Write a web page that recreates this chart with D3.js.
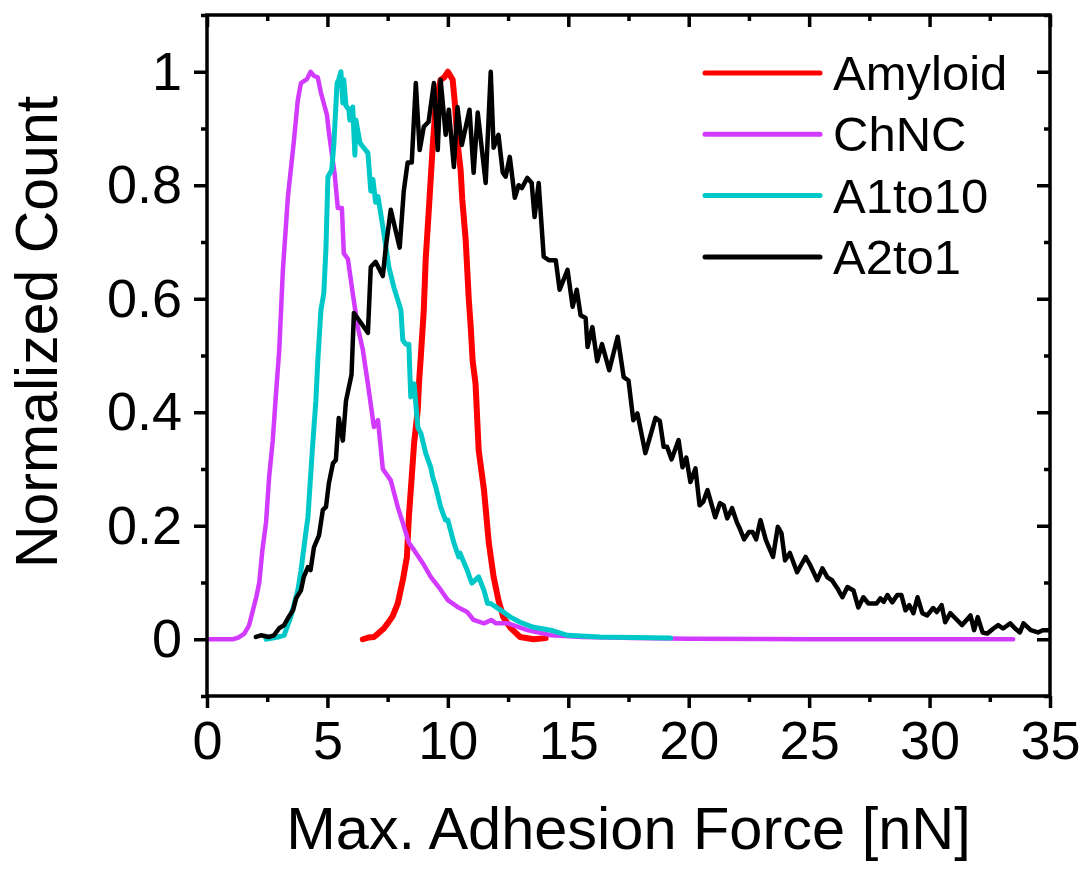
<!DOCTYPE html>
<html lang="en">
<head>
<meta charset="utf-8">
<title>Max. Adhesion Force histogram</title>
<script src="https://d3js.org/d3.v7.min.js"></script>
<style>
  body { margin: 0; background: #fff; }
  svg { font-family: "Liberation Sans", Arial, sans-serif; }
  .axis path { display: none; }
  .axis line { stroke: #000; stroke-width: 3.5; }
  .axis text { font-size: 54px; fill: #000; }
</style>
</head>
<body>
<script>
// series names and colours
var seriesNames = ["Amyloid", "ChNC", "A1to10", "A2to1"];
var seriesColors = ["#ff0000", "#d23aff", "#00c8c8", "#000000"];
var seriesWidths = [6, 4.5, 5, 4.5];

// Amyloid
var amyloidX = [6.47, 6.7, 6.93, 7.1, 7.34, 7.5, 7.7, 7.92, 8.13, 8.3, 8.38, 8.5, 8.6, 8.75, 8.8, 8.88, 9.0, 9.08, 9.2, 9.37, 9.5, 9.7, 9.85, 10.0, 10.2, 10.29, 10.4, 10.53, 10.6, 10.74, 10.87, 10.95, 11.03, 11.15, 11.28, 11.5, 11.7, 11.9, 12.1, 12.3, 12.6, 13.0, 13.56, 14.06];
var amyloidY = [0, 0.003, 0.004, 0.01, 0.019, 0.028, 0.04, 0.063, 0.104, 0.145, 0.215, 0.286, 0.346, 0.404, 0.45, 0.5, 0.58, 0.67, 0.75, 0.868, 0.945, 0.986, 0.99, 1.0, 0.986, 0.945, 0.875, 0.827, 0.774, 0.704, 0.598, 0.55, 0.49, 0.45, 0.333, 0.263, 0.17, 0.11, 0.069, 0.039, 0.02, 0.004, 0, 0.002];

// ChNC
var chncX = [0, 0.5, 1.07, 1.3, 1.55, 1.75, 1.9, 2.05, 2.17, 2.3, 2.45, 2.58, 2.73, 2.86, 3.0, 3.15, 3.36, 3.6, 3.77, 3.9, 4.15, 4.3, 4.43, 4.6, 4.73, 4.98, 5.06, 5.2, 5.3, 5.43, 5.6, 5.68, 5.85, 6.05, 6.26, 6.47, 6.68, 6.93, 7.1, 7.3, 7.63, 7.92, 8.13, 8.38, 8.6, 8.96, 9.29, 9.62, 10.0, 10.4, 10.8, 11.07, 11.5, 11.8, 12.0, 12.5, 13.3, 14.3, 15.6, 17.7, 20, 25, 30, 33.47];
var chncY = [0, 0, 0, 0.003, 0.01, 0.025, 0.05, 0.075, 0.1, 0.157, 0.205, 0.286, 0.35, 0.43, 0.51, 0.65, 0.78, 0.875, 0.95, 0.98, 0.987, 1.0, 0.993, 0.99, 0.963, 0.924, 0.894, 0.85, 0.82, 0.76, 0.76, 0.68, 0.67, 0.61, 0.55, 0.51, 0.45, 0.374, 0.386, 0.30, 0.28, 0.233, 0.205, 0.17, 0.157, 0.134, 0.11, 0.092, 0.069, 0.057, 0.048, 0.034, 0.028, 0.034, 0.028, 0.028, 0.016, 0.007, 0.004, 0.002, 0.001, 0, 0, 0];

// A1to10
var a1to10X = [2.45, 2.94, 3.2, 3.48, 3.77, 3.9, 4.1, 4.19, 4.3, 4.4, 4.52, 4.6, 4.73, 4.85, 4.94, 5.02, 5.18, 5.27, 5.4, 5.47, 5.56, 5.64, 5.68, 5.77, 5.89, 5.93, 6.05, 6.14, 6.18, 6.35, 6.43, 6.68, 6.8, 6.89, 7.0, 7.1, 7.3, 7.34, 7.55, 7.76, 7.92, 8.05, 8.13, 8.25, 8.38, 8.46, 8.6, 8.75, 8.88, 9.08, 9.29, 9.37, 9.5, 9.7, 9.9, 10.0, 10.25, 10.45, 10.5, 10.8, 10.95, 11.0, 11.28, 11.5, 11.65, 11.78, 12.2, 12.6, 13.0, 13.56, 14.27, 14.97, 16.3, 19.25];
var a1to10Y = [0, 0.004, 0.007, 0.04, 0.086, 0.12, 0.187, 0.215, 0.286, 0.35, 0.42, 0.49, 0.58, 0.61, 0.69, 0.815, 0.827, 0.875, 0.98, 0.986, 1.0, 0.945, 0.986, 0.94, 0.933, 0.915, 0.938, 0.853, 0.915, 0.875, 0.87, 0.857, 0.79, 0.81, 0.77, 0.78, 0.727, 0.716, 0.656, 0.62, 0.598, 0.58, 0.527, 0.52, 0.52, 0.427, 0.45, 0.374, 0.363, 0.328, 0.303, 0.286, 0.268, 0.233, 0.21, 0.21, 0.17, 0.145, 0.152, 0.122, 0.104, 0.099, 0.11, 0.086, 0.063, 0.063, 0.051, 0.039, 0.03, 0.021, 0.016, 0.007, 0.004, 0.002];

// A2to1
var a2to1X = [2.03, 2.24, 2.58, 2.78, 2.99, 3.2, 3.36, 3.57, 3.7, 3.9, 4.02, 4.19, 4.3, 4.44, 4.65, 4.81, 4.94, 5.06, 5.23, 5.35, 5.47, 5.64, 5.77, 5.89, 6.0, 6.1, 6.68, 6.8, 7.0, 7.3, 7.42, 7.63, 8.0, 8.17, 8.33, 8.5, 8.67, 8.83, 9.0, 9.2, 9.42, 9.58, 9.7, 9.91, 10.04, 10.25, 10.4, 10.58, 10.9, 11.07, 11.24, 11.57, 11.78, 11.9, 12.1, 12.28, 12.4, 12.57, 12.78, 12.94, 13.07, 13.3, 13.48, 13.6, 13.77, 13.98, 14.19, 14.48, 14.64, 14.97, 15.18, 15.35, 15.51, 15.72, 15.8, 16.0, 16.2, 16.4, 16.7, 17.05, 17.3, 17.5, 17.7, 17.87, 18.2, 18.62, 18.8, 18.96, 19.1, 19.29, 19.58, 19.74, 19.9, 20.07, 20.28, 20.45, 20.6, 20.78, 21.1, 21.3, 21.45, 21.6, 21.8, 22.0, 22.1, 22.3, 22.5, 22.65, 22.8, 22.98, 23.2, 23.5, 23.7, 23.85, 24.0, 24.2, 24.5, 24.85, 25.05, 25.34, 25.55, 25.76, 25.95, 26.17, 26.38, 26.59, 26.84, 27.04, 27.25, 27.46, 27.8, 27.96, 28.1, 28.25, 28.45, 28.66, 28.83, 29.0, 29.16, 29.33, 29.5, 29.7, 29.9, 30.15, 30.3, 30.5, 30.65, 30.86, 31.07, 31.35, 31.7, 31.85, 32.0, 32.2, 32.4, 32.65, 32.85, 33.05, 33.35, 33.55, 33.75, 33.9, 34.2, 34.5, 34.7, 35.0];
var a2to1Y = [0.004, 0.007, 0.004, 0.007, 0.019, 0.025, 0.037, 0.051, 0.072, 0.086, 0.11, 0.127, 0.122, 0.162, 0.183, 0.228, 0.233, 0.275, 0.31, 0.316, 0.39, 0.35, 0.42, 0.444, 0.466, 0.575, 0.54, 0.656, 0.665, 0.64, 0.69, 0.757, 0.69, 0.79, 0.84, 0.84, 0.98, 0.862, 0.903, 0.912, 0.98, 0.862, 0.986, 0.889, 0.933, 0.832, 0.938, 0.871, 0.933, 0.822, 0.928, 0.804, 1.0, 0.866, 0.889, 0.822, 0.815, 0.85, 0.778, 0.8, 0.795, 0.813, 0.804, 0.744, 0.804, 0.674, 0.668, 0.668, 0.616, 0.651, 0.586, 0.616, 0.571, 0.566, 0.515, 0.55, 0.49, 0.52, 0.474, 0.533, 0.462, 0.456, 0.386, 0.398, 0.328, 0.39, 0.385, 0.339, 0.339, 0.317, 0.351, 0.303, 0.32, 0.277, 0.301, 0.236, 0.242, 0.263, 0.215, 0.24, 0.236, 0.213, 0.231, 0.206, 0.197, 0.176, 0.189, 0.189, 0.176, 0.21, 0.175, 0.145, 0.198, 0.187, 0.139, 0.152, 0.118, 0.145, 0.13, 0.104, 0.125, 0.109, 0.104, 0.09, 0.074, 0.092, 0.086, 0.056, 0.074, 0.063, 0.063, 0.072, 0.066, 0.078, 0.065, 0.078, 0.078, 0.051, 0.06, 0.046, 0.074, 0.046, 0.042, 0.055, 0.048, 0.06, 0.03, 0.046, 0.037, 0.025, 0.042, 0.016, 0.039, 0.012, 0.01, 0.019, 0.025, 0.019, 0.028, 0.019, 0.012, 0.028, 0.016, 0.012, 0.016, 0.016];

// ticks
var xMajorTicks = [0, 5, 10, 15, 20, 25, 30, 35];
var xMinorTicks = [2.5, 7.5, 12.5, 17.5, 22.5, 27.5, 32.5];
var yMajorTicks = [0, 0.2, 0.4, 0.6, 0.8, 1];
var yMinorTicks = [-0.1, 0.1, 0.3, 0.5, 0.7, 0.9, 1.1];

var xTitle = "Max. Adhesion Force [nN]";
var yTitle = "Normalized Count";

var W = 1087, H = 871;
var margin = {top: 15, right: 37, bottom: 175, left: 207};
var w = W - margin.left - margin.right;
var h = H - margin.top - margin.bottom;

var svg = d3.select("body").append("svg")
    .attr("width", W)
    .attr("height", H);

var g = svg.append("g")
    .attr("transform", "translate(" + margin.left + "," + margin.top + ")");

var x = d3.scaleLinear().domain([0, 35]).range([0, w]);
var y = d3.scaleLinear().domain([-0.1, 1.1]).range([h, 0]);

var fmt = d3.format("~g");

// bottom axis (outward ticks)
g.append("g").attr("class", "axis")
    .attr("transform", "translate(0," + h + ")")
    .call(d3.axisBottom(x).tickValues(xMajorTicks).tickSize(12).tickPadding(13).tickFormat(fmt));
g.append("g").attr("class", "axis")
    .attr("transform", "translate(0," + h + ")")
    .call(d3.axisBottom(x).tickValues(xMinorTicks).tickSize(6).tickFormat(""));

// top axis (inward ticks)
g.append("g").attr("class", "axis")
    .call(d3.axisTop(x).tickValues(xMajorTicks).tickSize(-12).tickFormat(""));
g.append("g").attr("class", "axis")
    .call(d3.axisTop(x).tickValues(xMinorTicks).tickSize(-6).tickFormat(""));

// left axis (outward ticks)
g.append("g").attr("class", "axis")
    .call(d3.axisLeft(y).tickValues(yMajorTicks).tickSize(13).tickPadding(12).tickFormat(fmt));
g.append("g").attr("class", "axis")
    .call(d3.axisLeft(y).tickValues(yMinorTicks).tickSize(6).tickFormat(""));

// right axis (inward ticks)
g.append("g").attr("class", "axis")
    .attr("transform", "translate(" + w + ",0)")
    .call(d3.axisRight(y).tickValues(yMajorTicks).tickSize(-13).tickFormat(""));
g.append("g").attr("class", "axis")
    .attr("transform", "translate(" + w + ",0)")
    .call(d3.axisRight(y).tickValues(yMinorTicks).tickSize(-6).tickFormat(""));

g.selectAll(".axis text").attr("font-family", null).attr("font-size", null);

// clip to plot area
g.append("clipPath").attr("id", "clip")
  .append("rect").attr("width", w).attr("height", h);

var series = [
    {xs: amyloidX, ys: amyloidY},
    {xs: chncX, ys: chncY},
    {xs: a1to10X, ys: a1to10Y},
    {xs: a2to1X, ys: a2to1Y}
];

var line = d3.line()
    .x(function(d) { return x(d[0]); })
    .y(function(d) { return y(d[1]); });

var plot = g.append("g").attr("clip-path", "url(#clip)");
series.forEach(function(s, i) {
    var pts = s.xs.map(function(v, k) { return [v, s.ys[k]]; });
    plot.append("path")
        .datum(pts)
        .attr("d", line)
        .attr("fill", "none")
        .attr("stroke", seriesColors[i])
        .attr("stroke-width", seriesWidths[i])
        .attr("stroke-linejoin", "round")
        .attr("stroke-linecap", "round");
});

// frame
g.append("rect")
    .attr("width", w).attr("height", h)
    .attr("fill", "none")
    .attr("stroke", "#000")
    .attr("stroke-width", 3.5);

// legend
var legend = svg.append("g");
seriesNames.forEach(function(name, i) {
    var ly = 73 + i * 61.3;
    legend.append("line")
        .attr("x1", 705).attr("x2", 820)
        .attr("y1", ly).attr("y2", ly)
        .attr("stroke", seriesColors[i])
        .attr("stroke-width", 5)
        .attr("stroke-linecap", "round");
    legend.append("text")
        .attr("x", 833).attr("y", ly + 17)
        .attr("font-size", 49)
        .text(name);
});

// axis titles
svg.append("text")
    .attr("x", margin.left + w / 2)
    .attr("y", 849)
    .attr("text-anchor", "middle")
    .attr("font-size", 59.5)
    .text(xTitle);

svg.append("text")
    .attr("transform", "translate(57,332) rotate(-90)")
    .attr("text-anchor", "middle")
    .attr("font-size", 59)
    .text(yTitle);
</script>
</body>
</html>
